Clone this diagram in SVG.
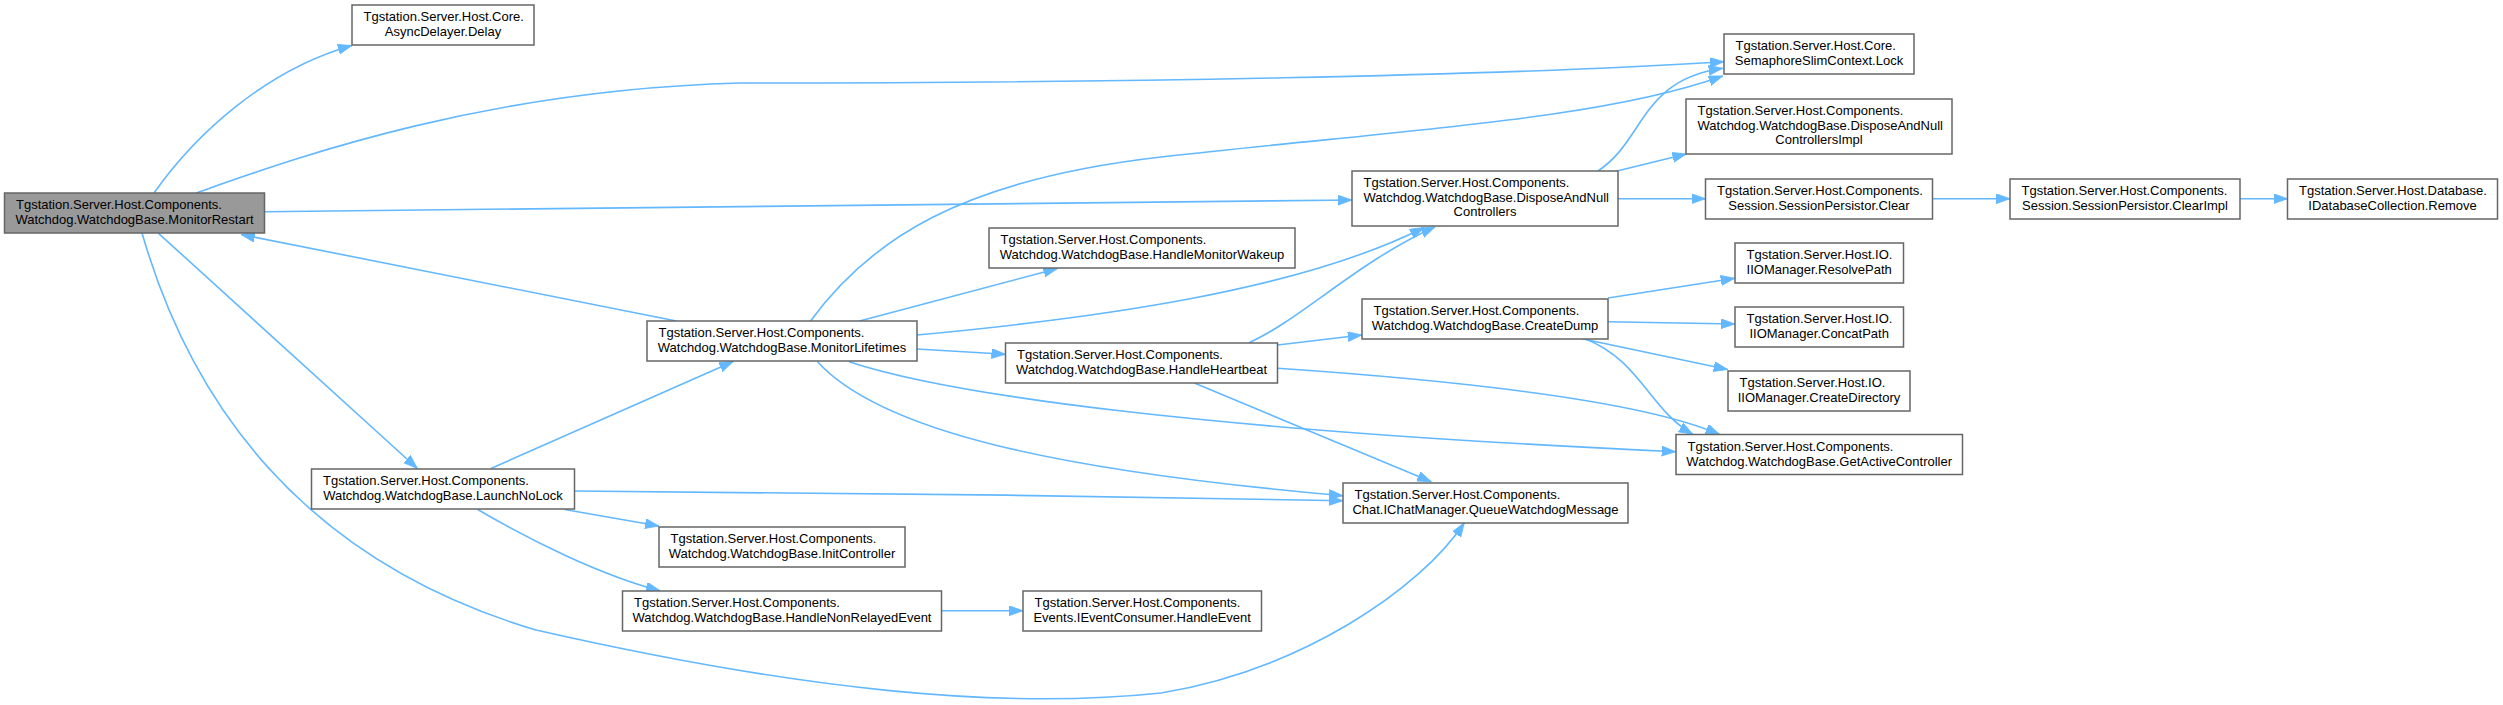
<svg xmlns="http://www.w3.org/2000/svg" width="2503" height="705" viewBox="0 0 2503 705">
<style>
.n rect{fill:#ffffff;stroke:#666666;stroke-width:1.5}
.n.hl rect{fill:#999999}
.n text{font-family:"Liberation Sans",Arial,sans-serif;font-size:13px;fill:#000000}
.e path{fill:none;stroke:#63b8ff;stroke-width:1.6;marker-end:url(#a)}
</style>
<defs>
<marker id="a" markerWidth="15" markerHeight="11" refX="14" refY="5" orient="auto" markerUnits="userSpaceOnUse"><path d="M0,0 L14,5 L0,10 Z" fill="#63b8ff" stroke="#63b8ff" stroke-width="0.8"/></marker>
</defs>
<rect width="2503" height="705" fill="#ffffff"/>
<g id="edges" class="e">
<path d="M154,193 C195,135 265,70 352,45.5"/>
<path d="M196,193 C290,160 480,90 740,83 C1100,83 1500,76 1724,61.7"/>
<path d="M264.5,211.7 L1352,200"/>
<path d="M158.5,233.3 L417.4,468.5"/>
<path d="M142,233 C190,400 300,560 536,630 C800,690 1000,710 1161,693 C1300,670 1420,590 1464.3,522.7"/>
<path d="M491,468.5 L733.3,361.5"/>
<path d="M574.5,491 C800,492 1100,496 1343,500.7"/>
<path d="M564.7,509.5 L659,526"/>
<path d="M477.7,509.5 C530,540 600,575 660,590.7"/>
<path d="M941.6,610.7 L1023,610.7"/>
<path d="M676.3,321 L241,234.5"/>
<path d="M810.5,321 C870,240 960,180 1161,157 C1400,130 1600,120 1722.7,76"/>
<path d="M859.6,321 L1057.4,268.5"/>
<path d="M917,335 C1100,318 1300,290 1424,227.5"/>
<path d="M917,349 L1005.5,354.3"/>
<path d="M817.5,361.7 C880,430 1050,470 1343,495.7"/>
<path d="M849,361.7 C950,395 1200,430 1675.7,451.7"/>
<path d="M1249,342.7 C1300,320 1360,260 1435,227"/>
<path d="M1277.6,345 L1361.8,335"/>
<path d="M1195,383.3 L1431.3,481.7"/>
<path d="M1277.6,368.3 C1450,380 1640,400 1719.6,434.5"/>
<path d="M1608,298 L1734.8,278.3"/>
<path d="M1608,321.7 L1734.8,324"/>
<path d="M1582,338.7 L1727.7,369.5"/>
<path d="M1585,338.7 C1640,360 1650,410 1692.9,434.3"/>
<path d="M1598,171 C1645,140 1640,80 1722.7,68.3"/>
<path d="M1617,171 L1686.4,154"/>
<path d="M1618,198.7 L1705.5,198.7"/>
<path d="M1932.5,198.7 L2010,198.7"/>
<path d="M2240,198.7 L2287.5,198.7"/>
</g>
<g id="MonitorRestart" class="n hl"><rect x="4.5" y="193" width="260" height="40"/><text x="16" y="209">Tgstation.Server.Host.Components.</text><text x="134.5" y="224" text-anchor="middle">Watchdog.WatchdogBase.MonitorRestart</text></g>
<g id="Delay" class="n"><rect x="352" y="5" width="182" height="40"/><text x="363.5" y="21">Tgstation.Server.Host.Core.</text><text x="443" y="36" text-anchor="middle">AsyncDelayer.Delay</text></g>
<g id="LaunchNoLock" class="n"><rect x="311.5" y="469" width="263" height="40"/><text x="323" y="485">Tgstation.Server.Host.Components.</text><text x="443" y="500" text-anchor="middle">Watchdog.WatchdogBase.LaunchNoLock</text></g>
<g id="MonitorLifetimes" class="n"><rect x="647" y="321" width="270" height="40"/><text x="658.5" y="337">Tgstation.Server.Host.Components.</text><text x="782" y="352" text-anchor="middle">Watchdog.WatchdogBase.MonitorLifetimes</text></g>
<g id="InitController" class="n"><rect x="659" y="527" width="246" height="40"/><text x="670.5" y="543">Tgstation.Server.Host.Components.</text><text x="782" y="558" text-anchor="middle">Watchdog.WatchdogBase.InitController</text></g>
<g id="HandleNonRelayedEvent" class="n"><rect x="622.5" y="591" width="319" height="40"/><text x="634" y="607">Tgstation.Server.Host.Components.</text><text x="782" y="622" text-anchor="middle">Watchdog.WatchdogBase.HandleNonRelayedEvent</text></g>
<g id="HandleMonitorWakeup" class="n"><rect x="989" y="228" width="306" height="40"/><text x="1000.5" y="244">Tgstation.Server.Host.Components.</text><text x="1142" y="259" text-anchor="middle">Watchdog.WatchdogBase.HandleMonitorWakeup</text></g>
<g id="HandleHeartbeat" class="n"><rect x="1005.5" y="343" width="272" height="40"/><text x="1017" y="359">Tgstation.Server.Host.Components.</text><text x="1141.5" y="374" text-anchor="middle">Watchdog.WatchdogBase.HandleHeartbeat</text></g>
<g id="HandleEvent" class="n"><rect x="1023" y="591" width="238.5" height="40"/><text x="1034.5" y="607">Tgstation.Server.Host.Components.</text><text x="1142.2" y="622" text-anchor="middle">Events.IEventConsumer.HandleEvent</text></g>
<g id="DisposeAndNullControllers" class="n"><rect x="1352" y="171" width="266" height="55"/><text x="1363.5" y="187">Tgstation.Server.Host.Components.</text><text x="1363.5" y="201.5">Watchdog.WatchdogBase.DisposeAndNull</text><text x="1485" y="216" text-anchor="middle">Controllers</text></g>
<g id="CreateDump" class="n"><rect x="1362" y="299" width="246" height="40"/><text x="1373.5" y="315">Tgstation.Server.Host.Components.</text><text x="1485" y="330" text-anchor="middle">Watchdog.WatchdogBase.CreateDump</text></g>
<g id="QueueWatchdogMessage" class="n"><rect x="1343" y="483" width="285" height="40"/><text x="1354.5" y="499">Tgstation.Server.Host.Components.</text><text x="1485.5" y="514" text-anchor="middle">Chat.IChatManager.QueueWatchdogMessage</text></g>
<g id="Lock" class="n"><rect x="1724" y="34" width="190" height="40"/><text x="1735.5" y="50">Tgstation.Server.Host.Core.</text><text x="1819" y="65" text-anchor="middle">SemaphoreSlimContext.Lock</text></g>
<g id="DisposeAndNullControllersImpl" class="n"><rect x="1686" y="99" width="266" height="55"/><text x="1697.5" y="115">Tgstation.Server.Host.Components.</text><text x="1697.5" y="129.5">Watchdog.WatchdogBase.DisposeAndNull</text><text x="1819" y="144" text-anchor="middle">ControllersImpl</text></g>
<g id="SessionPersistorClear" class="n"><rect x="1705.5" y="179" width="227" height="40"/><text x="1717" y="195">Tgstation.Server.Host.Components.</text><text x="1819" y="210" text-anchor="middle">Session.SessionPersistor.Clear</text></g>
<g id="ResolvePath" class="n"><rect x="1735" y="243" width="168.5" height="40"/><text x="1746.5" y="259">Tgstation.Server.Host.IO.</text><text x="1819.2" y="274" text-anchor="middle">IIOManager.ResolvePath</text></g>
<g id="ConcatPath" class="n"><rect x="1735" y="307" width="168.5" height="40"/><text x="1746.5" y="323">Tgstation.Server.Host.IO.</text><text x="1819.2" y="338" text-anchor="middle">IIOManager.ConcatPath</text></g>
<g id="CreateDirectory" class="n"><rect x="1728" y="371" width="182" height="40"/><text x="1739.5" y="387">Tgstation.Server.Host.IO.</text><text x="1819" y="402" text-anchor="middle">IIOManager.CreateDirectory</text></g>
<g id="GetActiveController" class="n"><rect x="1676" y="434.5" width="286.5" height="40"/><text x="1687.5" y="450.5">Tgstation.Server.Host.Components.</text><text x="1819.2" y="465.5" text-anchor="middle">Watchdog.WatchdogBase.GetActiveController</text></g>
<g id="ClearImpl" class="n"><rect x="2010" y="179" width="230" height="40"/><text x="2021.5" y="195">Tgstation.Server.Host.Components.</text><text x="2125" y="210" text-anchor="middle">Session.SessionPersistor.ClearImpl</text></g>
<g id="Remove" class="n"><rect x="2287.5" y="179" width="210" height="40"/><text x="2299" y="195">Tgstation.Server.Host.Database.</text><text x="2392.5" y="210" text-anchor="middle">IDatabaseCollection.Remove</text></g>
</svg>
